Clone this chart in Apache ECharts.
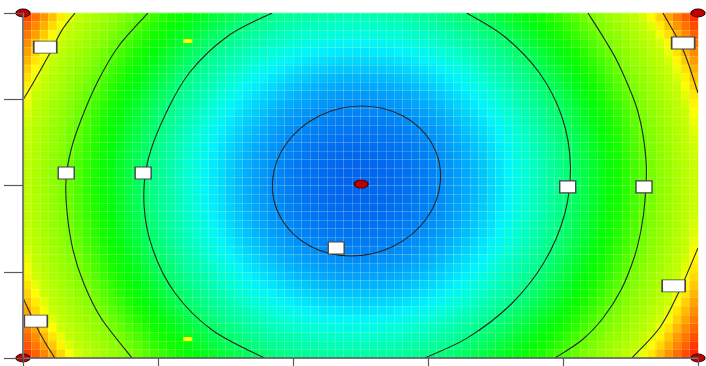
<!DOCTYPE html>
<html>
<head>
<meta charset="utf-8">
<script src="https://cdn.jsdelivr.net/npm/echarts@6/dist/echarts.min.js"></script>
<style>
  html, body { margin: 0; padding: 0; background: #fff; }
  #chart { width: 706px; height: 366px; }
</style>
</head>
<body>
<div id="chart"></div>
<script>
// response read across the map: one value per column (left -> right) and per row (top -> bottom)
const colLevel = [
  0.964, 0.915, 0.868, 0.822, 0.777, 0.733, 0.691, 0.650, 0.610, 0.572,
  0.535, 0.499, 0.464, 0.430, 0.398, 0.367, 0.338, 0.309, 0.282, 0.256,
  0.231, 0.208, 0.185, 0.165, 0.145, 0.126, 0.109, 0.093, 0.079, 0.065,
  0.053, 0.042, 0.032, 0.024, 0.017, 0.011, 0.006, 0.003, 0.001, 0.000,
  0.000, 0.002, 0.005, 0.009, 0.014, 0.021, 0.029, 0.038, 0.049, 0.060,
  0.073, 0.087, 0.103, 0.120, 0.137, 0.157, 0.177, 0.199, 0.222, 0.246,
  0.272, 0.298, 0.326, 0.355, 0.386, 0.418, 0.451, 0.485, 0.520, 0.557,
  0.595, 0.634, 0.675, 0.717, 0.760, 0.804, 0.849, 0.896, 0.944, 0.993
]
const rowLevel = [
  0.294, 0.264, 0.236, 0.209, 0.184, 0.161, 0.139, 0.119, 0.100, 0.083,
  0.067, 0.053, 0.041, 0.030, 0.021, 0.014, 0.008, 0.004, 0.001, 0.000,
  0.001, 0.003, 0.007, 0.012, 0.019, 0.027, 0.038, 0.049, 0.063, 0.078,
  0.094, 0.113, 0.133, 0.154, 0.177, 0.202, 0.228, 0.256, 0.285, 0.316
]

// contour lines, [x, y] on the 0-100 axes
const contourInner = [
  [61.85, 51.30], [60.58, 62.17], [56.31, 70.14], [50.19, 73.04], [43.87, 70.14], [39.02, 62.17],
  [36.96, 51.30], [38.24, 40.43], [42.50, 32.46], [48.62, 29.57], [54.95, 32.46], [59.78, 40.43]
]
const contour2Left = [
  [36.89, 100], [30.37, 93.33], [24.74, 82.90], [21.19, 71.01], [18.52, 57.39],
  [17.93, 44.35], [19.26, 31.30], [22.52, 18.84], [28.00, 8.12], [35.70, 0]
]
const contour2Right = [
  [65.75, 100], [71.33, 93.19], [76.52, 82.61], [79.85, 69.86], [81.10, 55.83],
  [80.21, 41.45], [77.20, 27.74], [72.34, 15.65], [65.90, 5.91], [59.50, 0]
]
const contour3Left = [
  [18.52, 100], [14.07, 90.14], [10.96, 79.71], [8.59, 68.99], [7.11, 60.29], [6.37, 51.59],
  [6.52, 42.32], [7.41, 31.30], [9.04, 21.45], [11.56, 11.59], [16.15, 0]
]
const contour3Right = [
  [83.70, 100], [86.22, 92.17], [88.44, 84.35], [91.11, 71.30], [92.30, 57.39], [92.15, 45.80],
  [91.56, 37.10], [90.52, 28.99], [88.59, 19.71], [85.93, 11.59], [82.81, 5.22], [78.81, 0]
]
const contourTopLeft = [[7.7, 100], [5.8, 95.1], [4.0, 88.4], [1.5, 79.7], [0, 74.8]]
const contourBottomLeft = [[0, 17.4], [2.5, 7.2], [4.7, 0]]
const contourTopRight = [[94.8, 100], [97.8, 89.3], [100, 76.8]]
const contourBottomRight = [[100, 31.9], [97.3, 19.7], [94.4, 9.0], [90.2, 0]]

const designPoints = [[0, 100], [100, 100], [0, 0], [100, 0], [50.1, 50.4]]
const labelBoxesWide = [[3.3, 90.1], [1.9, 10.7], [97.8, 91.3], [96.4, 20.9]]
const labelBoxesNarrow = [[6.4, 53.6], [17.8, 53.6], [46.4, 31.9], [80.7, 49.6], [92.0, 49.6]]
const yellowMarks = [[24.4, 91.9], [24.4, 5.5]]

const xTicks = [0, 20, 40, 60, 80, 100]
const yTicks = [0, 25, 50, 75, 100]

const heatData = []
rowLevel.forEach((r, j) => {
  colLevel.forEach((c, i) => {
    heatData.push([i, j, +(c + r).toFixed(3)])
  })
})

const contours = [
  { pts: contourInner, closed: true },
  { pts: contour2Left }, { pts: contour2Right },
  { pts: contour3Left }, { pts: contour3Right },
  { pts: contourTopLeft }, { pts: contourBottomLeft },
  { pts: contourTopRight }, { pts: contourBottomRight }
]

// catmull-rom through the pixel points -> svg path
function smoothPath(pts, closed) {
  const n = pts.length
  const at = k => closed ? pts[(k + n) % n] : pts[Math.max(0, Math.min(n - 1, k))]
  let d = 'M' + pts[0][0].toFixed(2) + ',' + pts[0][1].toFixed(2)
  const segs = closed ? n : n - 1
  for (let k = 0; k < segs; k++) {
    const p0 = at(k - 1), p1 = at(k), p2 = at(k + 1), p3 = at(k + 2)
    const c1x = p1[0] + (p2[0] - p0[0]) / 6, c1y = p1[1] + (p2[1] - p0[1]) / 6
    const c2x = p2[0] - (p3[0] - p1[0]) / 6, c2y = p2[1] - (p3[1] - p1[1]) / 6
    d += ' C' + [c1x, c1y, c2x, c2y, p2[0], p2[1]].map(v => v.toFixed(2)).join(',')
  }
  if (closed) d += ' Z'
  return d
}

const gridBox = { left: 23, right: 8, top: 13, bottom: 8 }
const axisGray = '#5a5a5a'
const cellLine = 'rgba(255,255,160,0.2)'

const chart = echarts.init(document.getElementById('chart'))
chart.setOption({
  animation: false,
  grid: [
    Object.assign({}, gridBox),
    Object.assign({}, gridBox)
  ],
  visualMap: {
    show: false,
    seriesIndex: 0,
    min: 0,
    max: 1.3,
    inRange: {
      color: [
        '#0064f0', '#0082f8', '#00a6ff', '#00d0ff', '#00f4ff', '#00ffd8', '#00ffb4',
        '#00ff94', '#00ff70', '#00ff4c', '#00ff28', '#00ff08', '#10ff00', '#30ff00',
        '#50ff00', '#70ff00', '#88ff00', '#98ff00', '#a8ff00', '#b8ff00', '#c8ff00',
        '#ffff00', '#ffd000', '#ffa000', '#ff7800', '#ff5000', '#ff2800'
      ]
    }
  },
  xAxis: [
    {
      type: 'category', gridIndex: 0, data: colLevel.map((v, i) => i),
      axisLine: { show: false }, axisTick: { show: false }, axisLabel: { show: false },
      splitLine: { show: true, interval: 0, lineStyle: { color: cellLine, width: 1 } },
      z: 3
    },
    {
      type: 'value', gridIndex: 1, min: xTicks[0], max: xTicks[xTicks.length - 1], interval: 20,
      axisLine: { show: true, lineStyle: { color: axisGray, width: 1.5 } },
      axisTick: { show: true, length: 12, lineStyle: { color: axisGray, width: 1.2 } },
      axisLabel: { show: false },
      splitLine: { show: false },
      z: 10
    },
    {
      type: 'value', gridIndex: 1, position: 'top', min: 0, max: 100,
      axisLine: { show: true, lineStyle: { color: '#777', width: 1.2 } },
      axisTick: { show: false }, axisLabel: { show: false }, splitLine: { show: false },
      z: 10
    }
  ],
  yAxis: [
    {
      type: 'category', gridIndex: 0, inverse: true, data: rowLevel.map((v, j) => j),
      axisLine: { show: false }, axisTick: { show: false }, axisLabel: { show: false },
      splitLine: { show: true, interval: 0, lineStyle: { color: cellLine, width: 1 } },
      z: 3
    },
    {
      type: 'value', gridIndex: 1, min: yTicks[0], max: yTicks[yTicks.length - 1], interval: 25,
      axisLine: { show: true, lineStyle: { color: axisGray, width: 1.5 } },
      axisTick: { show: true, length: 19, lineStyle: { color: axisGray, width: 1.2 } },
      axisLabel: { show: false },
      splitLine: { show: false },
      z: 10
    },
    {
      type: 'value', gridIndex: 1, position: 'right', min: 0, max: 100,
      axisLine: { show: true, lineStyle: { color: '#777', width: 1.2 } },
      axisTick: { show: false }, axisLabel: { show: false }, splitLine: { show: false },
      z: 10
    }
  ],
  series: [
    {
      type: 'heatmap',
      xAxisIndex: 0,
      yAxisIndex: 0,
      data: heatData,
      progressive: 0,
      silent: true,
      z: 1
    },
    {
      type: 'custom',
      xAxisIndex: 1,
      yAxisIndex: 1,
      data: contours.map(c => c.pts[0]),
      clip: true,
      silent: true,
      z: 5,
      renderItem: (params, api) => {
        const c = contours[params.dataIndex]
        const px = c.pts.map(p => api.coord(p))
        return {
          type: 'path',
          shape: { pathData: smoothPath(px, c.closed) },
          style: { fill: 'none', stroke: '#262626', lineWidth: 1.1 }
        }
      }
    },
    {
      type: 'scatter', xAxisIndex: 1, yAxisIndex: 1, data: yellowMarks,
      symbol: 'rect', symbolSize: [9, 4], silent: true, z: 6,
      itemStyle: { color: '#ffff00', opacity: 1 }
    },
    {
      type: 'scatter', xAxisIndex: 1, yAxisIndex: 1, data: labelBoxesWide,
      symbol: 'rect', symbolSize: [23, 12], silent: true, z: 7,
      itemStyle: { color: '#ffffff', borderColor: '#444', borderWidth: 1.2, opacity: 1 }
    },
    {
      type: 'scatter', xAxisIndex: 1, yAxisIndex: 1, data: labelBoxesNarrow,
      symbol: 'rect', symbolSize: [16, 12], silent: true, z: 7,
      itemStyle: { color: '#ffffff', borderColor: '#444', borderWidth: 1.2, opacity: 1 }
    },
    {
      type: 'scatter', xAxisIndex: 1, yAxisIndex: 1, data: designPoints,
      symbol: 'circle', symbolSize: [14, 8], silent: true, clip: false, z: 8,
      itemStyle: { color: '#c00000', borderColor: '#3a0000', borderWidth: 1, opacity: 1 }
    }
  ]
})
</script>
</body>
</html>
